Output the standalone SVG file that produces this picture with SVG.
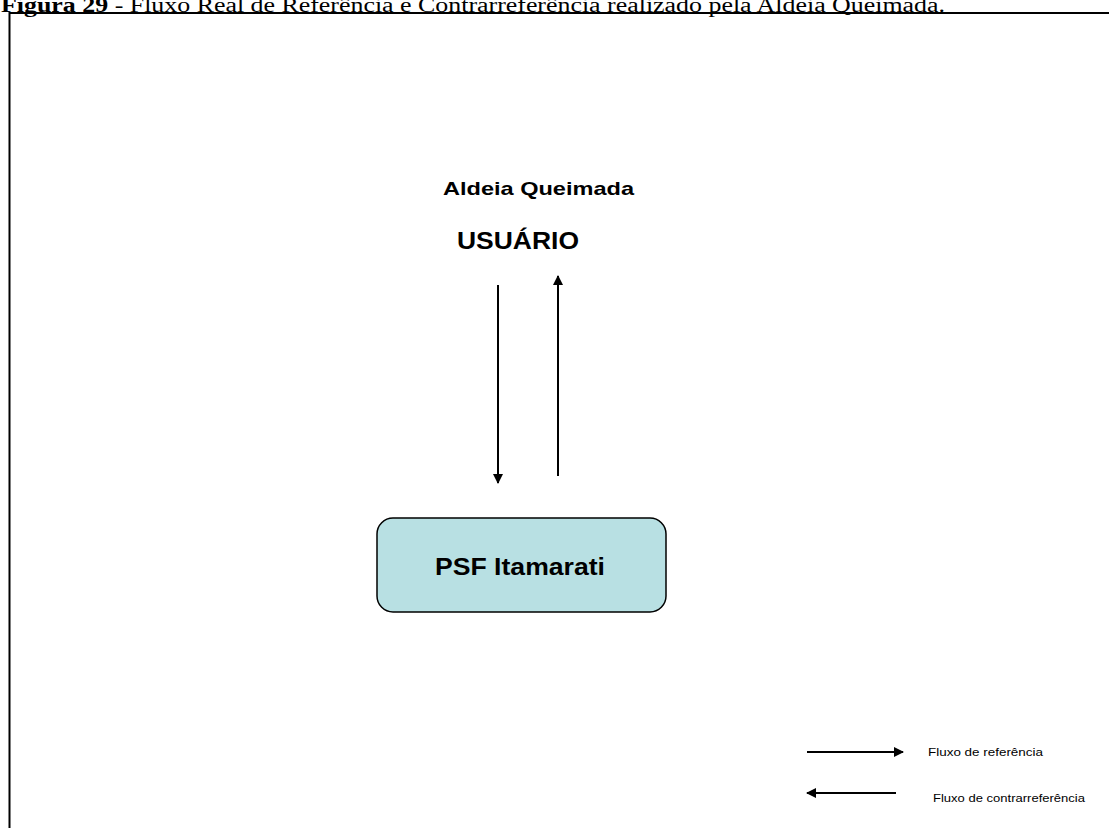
<svg xmlns="http://www.w3.org/2000/svg" width="1109" height="828" viewBox="0 0 1109 828">
  <style>
    .title { font-family: "Liberation Serif", "Times New Roman", serif; font-size: 20px; fill: #000; }
    .lbl { font-family: "Liberation Sans", Arial, sans-serif; font-weight: bold; fill: #000; }
    .leg { font-family: "Liberation Sans", Arial, sans-serif; font-size: 11px; fill: #000; }
    .flow { stroke: #000; stroke-width: 2; fill: none; }
  </style>
  <defs>
    <marker id="head" viewBox="0 0 10 10" refX="9" refY="5" markerWidth="5" markerHeight="5" markerUnits="strokeWidth" orient="auto">
      <path d="M0,0 L10,5 L0,10 Z" fill="#000"/>
    </marker>
  </defs>
  <rect width="1109" height="828" fill="#fff"/>

  <!-- caption -->
  <text class="title" x="1" y="12" textLength="944" lengthAdjust="spacingAndGlyphs"><tspan font-weight="bold">Figura 29</tspan> - Fluxo Real de Referência e Contrarreferência realizado pela Aldeia Queimada.</text>

  <!-- outer frame -->
  <rect x="9.5" y="13" width="1102" height="830" fill="none" stroke="#000" stroke-width="2"/>

  <!-- user node -->
  <g id="usuario">
    <text class="lbl" x="443" y="195" font-size="18.5" textLength="191" lengthAdjust="spacingAndGlyphs">Aldeia Queimada</text>
    <text class="lbl" x="457" y="249" font-size="24" textLength="122" lengthAdjust="spacingAndGlyphs">USUÁRIO</text>
  </g>

  <!-- health unit node -->
  <g id="psf-itamarati">
    <rect x="377" y="518" width="289" height="94" rx="16" ry="16" fill="#b8e0e3" stroke="#000" stroke-width="1.5"/>
    <text class="lbl" x="435" y="575" font-size="24" textLength="170" lengthAdjust="spacingAndGlyphs">PSF Itamarati</text>
  </g>

  <!-- flows -->
  <g id="connectors">
    <line class="flow" x1="498" y1="285" x2="498" y2="483" marker-end="url(#head)"/>
    <line class="flow" x1="558" y1="476" x2="558" y2="276" marker-end="url(#head)"/>
  </g>

  <!-- legend -->
  <g id="legend">
    <line class="flow" x1="807" y1="752" x2="903" y2="752" marker-end="url(#head)"/>
    <text class="leg" x="928" y="756" textLength="115" lengthAdjust="spacingAndGlyphs">Fluxo de referência</text>
    <line class="flow" x1="896" y1="793" x2="807" y2="793" marker-end="url(#head)"/>
    <text class="leg" x="933" y="802" textLength="152" lengthAdjust="spacingAndGlyphs">Fluxo de contrarreferência</text>
  </g>
</svg>
